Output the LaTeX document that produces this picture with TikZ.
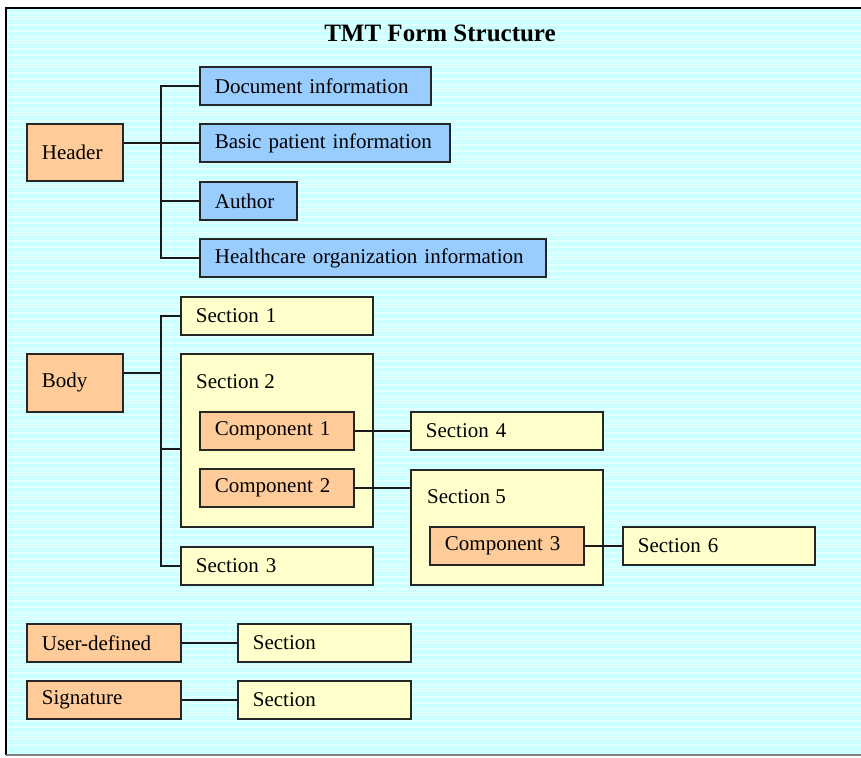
\documentclass[tikz,border=0pt]{standalone}
\usepackage{fontspec}
\setmainfont{Liberation Serif}
\usepackage{xcolor}
\usepackage{tikz}

\definecolor{bgcyan}{RGB}{204,255,255}
\definecolor{hdorange}{RGB}{255,204,153}
\definecolor{hdblue}{RGB}{153,204,255}
\definecolor{secyellow}{RGB}{255,255,204}

\begin{document}
\begin{tikzpicture}[x=1pt,y=1pt,yscale=-1,xscale=1,
  box/.style={draw=black!85, line width=1.8pt, anchor=north west, inner xsep=15pt, inner ysep=0pt, align=left, font=\fontsize{21}{24}\selectfont},
  partbox/.style={box, fill=hdorange},
  infobox/.style={box, fill=hdblue},
  secbox/.style={box, fill=secyellow},
  txt/.style={anchor=west, inner sep=0pt, font=\fontsize{21}{24}\selectfont},
  link/.style={draw=black!90, line width=1.8pt}]
\useasboundingbox (0,0) rectangle (861,757);

%Background
\fill[bgcyan] (6,8) rectangle (861,755);
\foreach \y in {13,19,...,750} \draw[white, opacity=0.4, line width=1.2pt] (7,\y) -- (861,\y);
\foreach \y in {16,40,...,750} \draw[white, opacity=0.55, line width=0.8pt] (7,\y) -- (861,\y);
\draw[black, line width=2pt] (6,755) -- (6,8) -- (861,8);
\draw[black!50, line width=1.5pt] (6,755) -- (861,755);

% Title
\node[font=\fontsize{25}{28}\selectfont\bfseries] (title) at (440,33) {TMT Form Structure};

%Header part
\node[partbox, text width=66pt, minimum height=57pt] (hdr) at (26,123) {Header};
\node[infobox, text width=201pt, minimum height=38pt] (doc) at (199,66) {Document information};
\node[infobox, text width=220pt, minimum height=38pt] (bas) at (199,123) {Basic patient information};
\node[infobox, text width=67pt, minimum height=38pt] (aut) at (199,181) {Author};
\node[infobox, text width=316pt, minimum height=38pt] (hco) at (199,238) {Healthcare organization information};

%Body part
\node[partbox, text width=66pt, minimum height=58pt] (body) at (26,353) {Body};
\node[secbox, text width=162pt, minimum height=38pt] (s1) at (180,296) {Section 1};
\node[secbox, minimum width=192pt, minimum height=173pt] (s2) at (180,353) {};
\node[txt] (s2t) at (196,382) {Section 2};
\node[partbox, text width=124pt, minimum height=38pt] (c1) at (199,411) {Component 1};
\node[partbox, text width=124pt, minimum height=38pt] (c2) at (199,468) {Component 2};
\node[secbox, text width=162pt, minimum height=38pt] (s3) at (180,546) {Section 3};
\node[secbox, text width=162pt, minimum height=38pt] (s4) at (410,411) {Section 4};
\node[secbox, minimum width=192pt, minimum height=115pt] (s5) at (410,469) {};
\node[txt] (s5t) at (427,497) {Section 5};
\node[partbox, text width=124pt, minimum height=38pt] (c3) at (429,526) {Component 3};
\node[secbox, text width=162pt, minimum height=38pt] (s6) at (622,526) {Section 6};

%User-defined and signature
\node[partbox, text width=124pt, minimum height=38pt] (usr) at (26,623) {User-defined};
\node[secbox, text width=143pt, minimum height=38pt] (usrs) at (237,623) {Section};
\node[partbox, text width=124pt, minimum height=38pt] (sig) at (26,680) {Signature};
\node[secbox, text width=143pt, minimum height=38pt] (sigs) at (237,680) {Section};

%Connectors
\coordinate (hbus) at (161,170);
\coordinate (bbus) at (161,440);
\draw[link] (doc.west) -| (hbus) |- (hco.west);
\draw[link] (aut.west) -- (aut.west -| hbus);
\draw[link] (hdr.east |- bas.west) -- (bas.west);
\draw[link] (s1.west) -| (bbus) |- (s3.west);
\draw[link] (body.east |- 0,373) -- (bbus |- 0,373);
\draw[link] (bbus |- 0,449) -- (s2.west |- 0,449);
\draw[link] (c1.east) -- (s4.west);
\draw[link] (c2.east) -- (s5.west |- c2.east);
\draw[link] (c3.east) -- (s6.west);
\draw[link] (usr.east) -- (usrs.west);
\draw[link] (sig.east) -- (sigs.west);

\end{tikzpicture}
\end{document}
